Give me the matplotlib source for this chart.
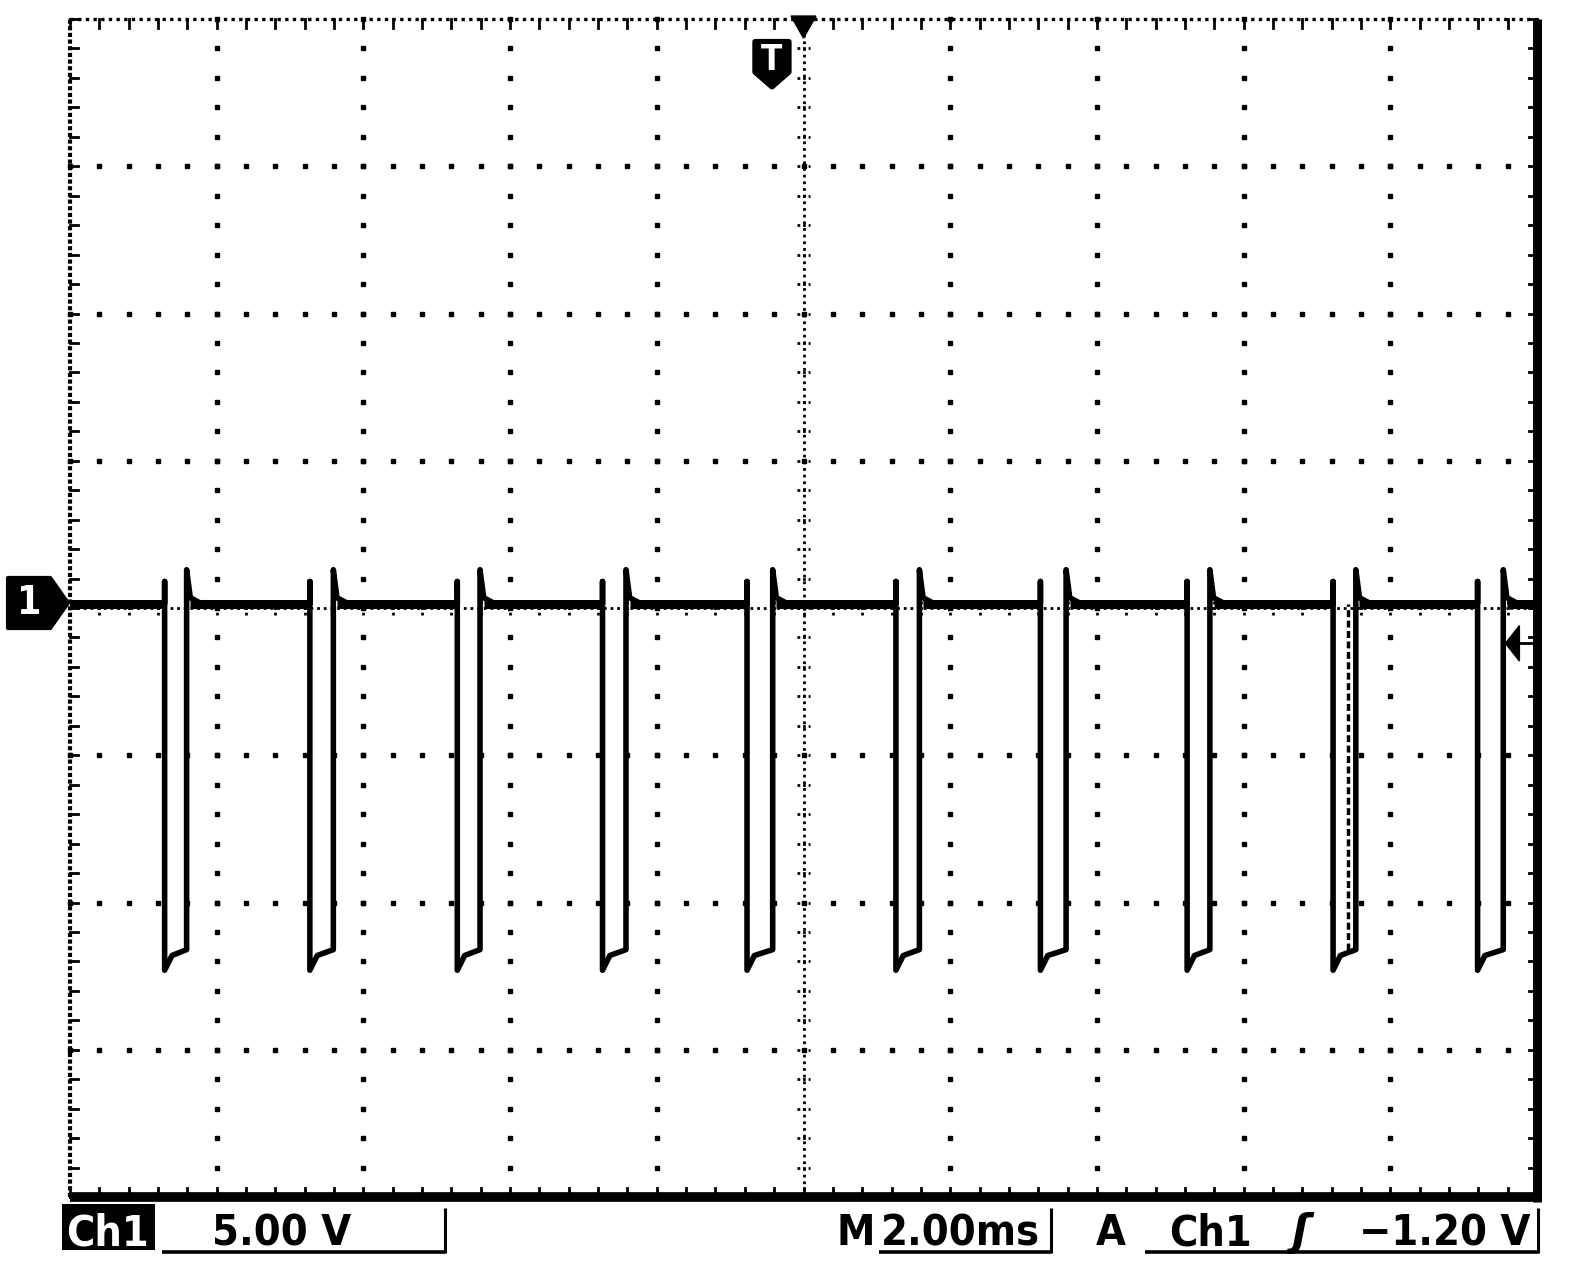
import numpy as np
import matplotlib.pyplot as plt
from matplotlib.lines import Line2D
from matplotlib.patches import Polygon, Rectangle

# values (time in ms from trigger, level in V)
FALL_MS = [-8.71, -6.73, -4.72, -2.74, -0.77, 1.26, 3.23, 5.23, 7.22, 9.19]
RISE_MS = [-8.41, -6.41, -4.41, -2.42, -0.42, 1.58, 3.58, 5.54, 7.53, 9.54]
GHOST_RISE_MS = [7.42]
BASE_V = 0.15
PRE_SPIKE_V = 0.9
LOW_START_V = -12.3
LOW_KNEE_V = -11.8
LOW_END_V = -11.6
OVERSHOOT_V = 1.3
AFTER_V = 0.35

VOLTS_PER_DIV = 5.0
MS_PER_DIV = 2.0
TRIGGER_MS = 0.0
TRIGGER_LEVEL_V = -1.20
GROUND_V = 0.17

CH_LABEL = 'Ch1'
SCALE_LABEL = '5.00 V'
TIME_LABEL = '2.00ms'
TRIG_LABEL = '\u22121.20 V'

W, H = 1584, 1266
FONT = dict(family='DejaVu Sans', fontstretch='condensed', fontweight='bold')


def px(x, y):
    return x / W, 1 - y / H


def build_trace():
    t = [-5 * MS_PER_DIV]
    v = [BASE_V]
    for f, r in zip(FALL_MS, RISE_MS):
        t += [f, f, f, f + 0.1, r, r, r + 0.05, r + 0.2]
        v += [BASE_V, PRE_SPIKE_V, LOW_START_V, LOW_KNEE_V, LOW_END_V, OVERSHOOT_V, AFTER_V, BASE_V]
    t.append(5 * MS_PER_DIV)
    v.append(BASE_V)
    return np.array(t), np.array(v)


def draw_graticule(ax):
    xmax = 5 * MS_PER_DIV
    ymax = 4 * VOLTS_PER_DIV
    xs = np.arange(-xmax, xmax + 1e-9, MS_PER_DIV / 5)
    ys = np.arange(-ymax, ymax + 1e-9, VOLTS_PER_DIV / 5)
    dot = dict(ls='none', marker='s', ms=2.2, color='black', mec='black', clip_on=False, zorder=1)

    for gx in np.arange(-xmax + MS_PER_DIV, xmax, MS_PER_DIV):
        if abs(gx) < 1e-9:
            continue
        ax.plot(np.full_like(ys, gx), ys, **dot)
    for gy in np.arange(-ymax + VOLTS_PER_DIV, ymax, VOLTS_PER_DIV):
        if abs(gy) < 1e-9:
            continue
        ax.plot(xs, np.full_like(xs, gy), **dot)

    # centre cross with minor ticks
    ax.plot([0, 0], [-ymax, ymax], color='black', lw=2, ls=(0, (1, 1.4)), zorder=1)
    ax.plot([-xmax, xmax], [0, 0], color='black', lw=2, ls=(0, (1, 1.4)), zorder=1)
    tx = 0.09
    ty = 0.25
    for y in ys:
        ax.plot([-tx, tx], [y, y], color='black', lw=2, ls=(0, (1, 1)), zorder=1)
    for x in xs:
        ax.plot([x, x], [-ty, ty], color='black', lw=2, ls=(0, (1, 1)), zorder=1)

    # border ticks
    for x in xs:
        ax.plot([x, x], [ymax, ymax - 0.3], color='black', lw=2, clip_on=False)
        ax.plot([x, x], [-ymax, -ymax + 0.3], color='black', lw=2, clip_on=False)
    for y in ys:
        ax.plot([-xmax, -xmax + 0.11], [y, y], color='black', lw=2, clip_on=False)
        ax.plot([xmax, xmax - 0.11], [y, y], color='black', lw=2, clip_on=False)

    # border
    ax.plot([-xmax, -xmax], [-ymax, ymax], color='black', lw=3, ls=(0, (1, 0.6)), clip_on=False)
    ax.plot([-xmax, xmax], [ymax, ymax], color='black', lw=2.4, ls=(0, (1, 1.3)), clip_on=False)
    ax.plot([xmax, xmax], [-ymax - 0.17, ymax], color='black', lw=6.5, clip_on=False,
            solid_capstyle='butt')
    ax.plot([-xmax, xmax + 0.06], [-ymax, -ymax], color='black', lw=7, clip_on=False,
            solid_capstyle='butt')


def draw_markers(ax):
    xmax = 5 * MS_PER_DIV
    ymax = 4 * VOLTS_PER_DIV
    g = GROUND_V
    ax.add_patch(Polygon([(-10.845, g + 0.85), (-10.27, g + 0.85), (-10.03, g),
                          (-10.27, g - 0.85), (-10.845, g - 0.85)],
                         closed=True, fc='black', ec='black', lw=3, joinstyle='round',
                         clip_on=False, zorder=5))
    ax.text(-10.56, g, '1', color='white', fontsize=28, ha='center', va='center',
            clip_on=False, zorder=6, **FONT)

    # trigger position
    tp = TRIGGER_MS
    ax.add_patch(Polygon([(tp - 0.17, ymax + 0.1), (tp + 0.17, ymax + 0.1), (tp, ymax - 0.65)],
                         closed=True, fc='black', ec='black', lw=1, clip_on=False, zorder=5))
    ax.add_patch(Polygon([(tp - 0.66, 19.23), (tp - 0.2, 19.23), (tp - 0.2, 18.2),
                          (tp - 0.43, 17.7), (tp - 0.66, 18.2)],
                         closed=True, fc='black', ec='black', lw=4, joinstyle='round',
                         clip_on=False, zorder=5))
    ax.text(tp - 0.43, 18.6, 'T', color='white', fontsize=25, ha='center', va='center',
            zorder=6, **FONT)

    # trigger level
    tl = TRIGGER_LEVEL_V
    ax.add_patch(Polygon([(9.57, tl), (9.76, tl + 0.6), (9.76, tl - 0.6)],
                         closed=True, fc='black', ec='black', lw=1, clip_on=False, zorder=5))
    ax.plot([9.76, xmax], [tl, tl], color='black', lw=2, zorder=5)


def draw_status(fig):
    fig.patches.append(Rectangle(px(62, 1250), 93 / W, 46 / H, transform=fig.transFigure,
                                 fc='black', ec='none'))
    base = 1245
    size = 31
    fig.text(*px(108, base), CH_LABEL, color='white', fontsize=size, ha='center', va='baseline', **FONT)
    fig.text(*px(212, base), SCALE_LABEL, fontsize=size, ha='left', va='baseline', **FONT)
    fig.text(*px(836, base), 'M', fontsize=size, ha='left', va='baseline', **FONT)
    fig.text(*px(881, base), TIME_LABEL, fontsize=size, ha='left', va='baseline', **FONT)
    fig.text(*px(1096, base), 'A', fontsize=size, ha='left', va='baseline', **FONT)
    fig.text(*px(1169, base), CH_LABEL, fontsize=size, ha='left', va='baseline', **FONT)
    fig.text(*px(1300, base), '\u0283', fontsize=size, ha='center', va='baseline',
             family='DejaVu Sans', fontweight='bold', style='italic')
    fig.text(*px(1359, base), TRIG_LABEL, fontsize=size, ha='left', va='baseline', **FONT)

    for x0, x1 in [(162, 445), (879, 1051), (1145, 1538)]:
        fig.add_artist(Line2D([px(x0, 0)[0], px(x1, 0)[0]], [px(0, 1252)[1]] * 2,
                              color='black', lw=2.6, solid_capstyle='butt'))
        fig.add_artist(Line2D([px(x1, 0)[0]] * 2, [px(0, 1253)[1], px(0, 1208)[1]],
                              color='black', lw=2.2, solid_capstyle='butt'))


def main():
    fig = plt.figure(figsize=(W / 100, H / 100), dpi=100)
    fig.patch.set_facecolor('white')
    ax = fig.add_axes([70 / W, 1 - 1197 / H, 1467 / W, 1178 / H])
    ax.set_xlim(-5 * MS_PER_DIV, 5 * MS_PER_DIV)
    ax.set_ylim(-4 * VOLTS_PER_DIV, 4 * VOLTS_PER_DIV)
    ax.axis('off')

    draw_graticule(ax)

    t, v = build_trace()
    ax.plot(t, v, color='black', lw=4, solid_joinstyle='round', zorder=3)

    # baseline between pulses is drawn heavier (noise band)
    starts = [-5 * MS_PER_DIV] + [r + 0.05 for r in RISE_MS]
    ends = [f - 0.02 for f in FALL_MS] + [5 * MS_PER_DIV]
    for s, e in zip(starts, ends):
        ax.plot([s, e], [BASE_V, BASE_V], color='black', lw=6.5, solid_capstyle='butt', zorder=3)

    for g in GHOST_RISE_MS:
        ax.plot([g, g], [LOW_END_V, BASE_V], color='black', lw=2.5, ls=(0, (2, 1)), zorder=3)

    draw_markers(ax)
    draw_status(fig)

    fig.savefig('out.png', dpi=100)


if __name__ == '__main__':
    main()
